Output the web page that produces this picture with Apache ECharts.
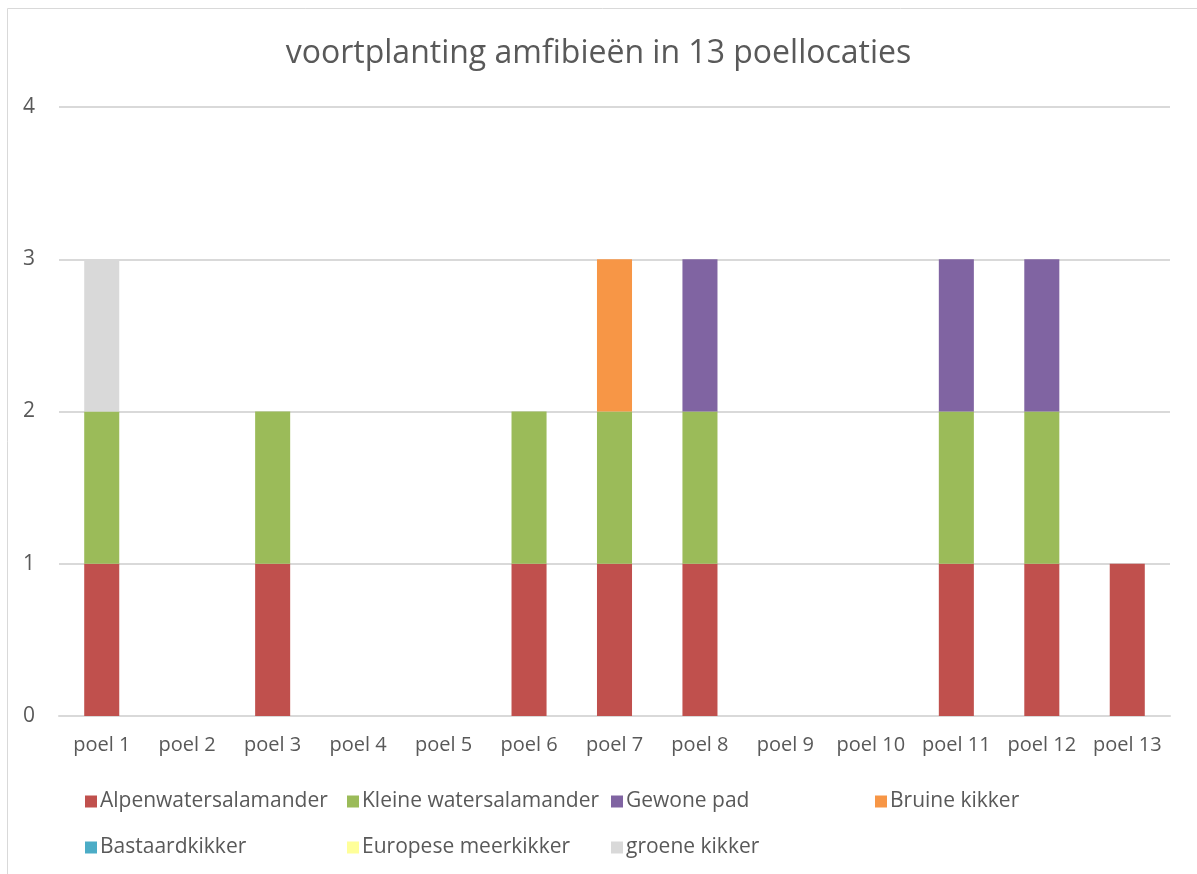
<!DOCTYPE html>
<html>
<head>
<meta charset="utf-8">
<script src="https://cdn.jsdelivr.net/npm/echarts@6/dist/echarts.min.js"></script>
<style>
  html, body { margin: 0; padding: 0; background: #fff; }
  #chart { width: 1197px; height: 874px; }
</style>
</head>
<body>
<div id="chart"></div>
<script>
// Pools (x axis)
const categories = ['poel 1', 'poel 2', 'poel 3', 'poel 4', 'poel 5', 'poel 6', 'poel 7',
  'poel 8', 'poel 9', 'poel 10', 'poel 11', 'poel 12', 'poel 13'];

// Reproduction observed per species and pool (stacked)
const alpenwatersalamander   = [1, 0, 1, 0, 0, 1, 1, 1, 0, 0, 1, 1, 1];
const kleineWatersalamander  = [1, 0, 1, 0, 0, 1, 1, 1, 0, 0, 1, 1, 0];
const gewonePad              = [0, 0, 0, 0, 0, 0, 0, 1, 0, 0, 1, 1, 0];
const bruineKikker           = [0, 0, 0, 0, 0, 0, 1, 0, 0, 0, 0, 0, 0];
const bastaardkikker         = [0, 0, 0, 0, 0, 0, 0, 0, 0, 0, 0, 0, 0];
const europeseMeerkikker     = [0, 0, 0, 0, 0, 0, 0, 0, 0, 0, 0, 0, 0];
const groeneKikker           = [1, 0, 0, 0, 0, 0, 0, 0, 0, 0, 0, 0, 0];

const seriesNames = ['Alpenwatersalamander', 'Kleine watersalamander', 'Gewone pad',
  'Bruine kikker', 'Bastaardkikker', 'Europese meerkikker', 'groene kikker'];
const seriesData = [alpenwatersalamander, kleineWatersalamander, gewonePad,
  bruineKikker, bastaardkikker, europeseMeerkikker, groeneKikker];
const colors = ['#C0504D', '#9BBB59', '#8064A2', '#F79646', '#4BACC6', '#FFFF99', '#D9D9D9'];

const font = '"Open Sans", "Liberation Sans", sans-serif';
const textColor = '#595959';

// Legend laid out in fixed columns, two rows
const legendPos = [
  [80, 786], [342, 786], [606, 786], [870, 786],
  [80, 832], [342, 832], [606, 832]
];
const legends = seriesNames.map((name, i) => ({
  data: [name],
  left: legendPos[i][0],
  top: legendPos[i][1],
  itemWidth: 12,
  itemHeight: 12,
  itemGap: 0,
  icon: 'rect',
  selectedMode: false,
  textStyle: { fontFamily: font, fontSize: 21, color: textColor, padding: [0, 0, 0, -2] }
}));

const chart = echarts.init(document.getElementById('chart'), null, { renderer: 'canvas' });
chart.setOption({
  animation: false,
  color: colors,
  title: {
    text: 'voortplanting amfibieën in 13 poellocaties',
    left: 'center',
    top: 33,
    textStyle: { fontFamily: font, fontSize: 32, fontWeight: 'normal', color: textColor }
  },
  graphic: [{
    type: 'rect',
    shape: { x: 7.5, y: 8.5, width: 1200, height: 900 },
    style: { fill: 'none', stroke: '#D9D9D9', lineWidth: 1 },
    silent: true,
    z: -1
  }],
  legend: legends,
  grid: { left: 59, right: 27, top: 107, bottom: 158, containLabel: false },
  xAxis: {
    type: 'category',
    data: categories,
    axisLine: { lineStyle: { color: '#D9D9D9', width: 2 } },
    axisTick: { show: false },
    axisLabel: {
      interval: 0,
      hideOverlap: false,
      fontFamily: font, fontSize: 20, color: textColor, margin: 19
    }
  },
  yAxis: {
    type: 'value',
    min: 0,
    max: 4,
    interval: 1,
    axisLine: { show: false },
    axisTick: { show: false },
    splitLine: { lineStyle: { color: '#D9D9D9', width: 2 } },
    axisLabel: { fontFamily: font, fontSize: 21, color: textColor, margin: 24 }
  },
  series: seriesNames.map((name, i) => ({
    name: name,
    type: 'bar',
    stack: 'total',
    data: seriesData[i],
    barWidth: '41%',
    itemStyle: { color: colors[i] }
  }))
});
</script>
</body>
</html>
